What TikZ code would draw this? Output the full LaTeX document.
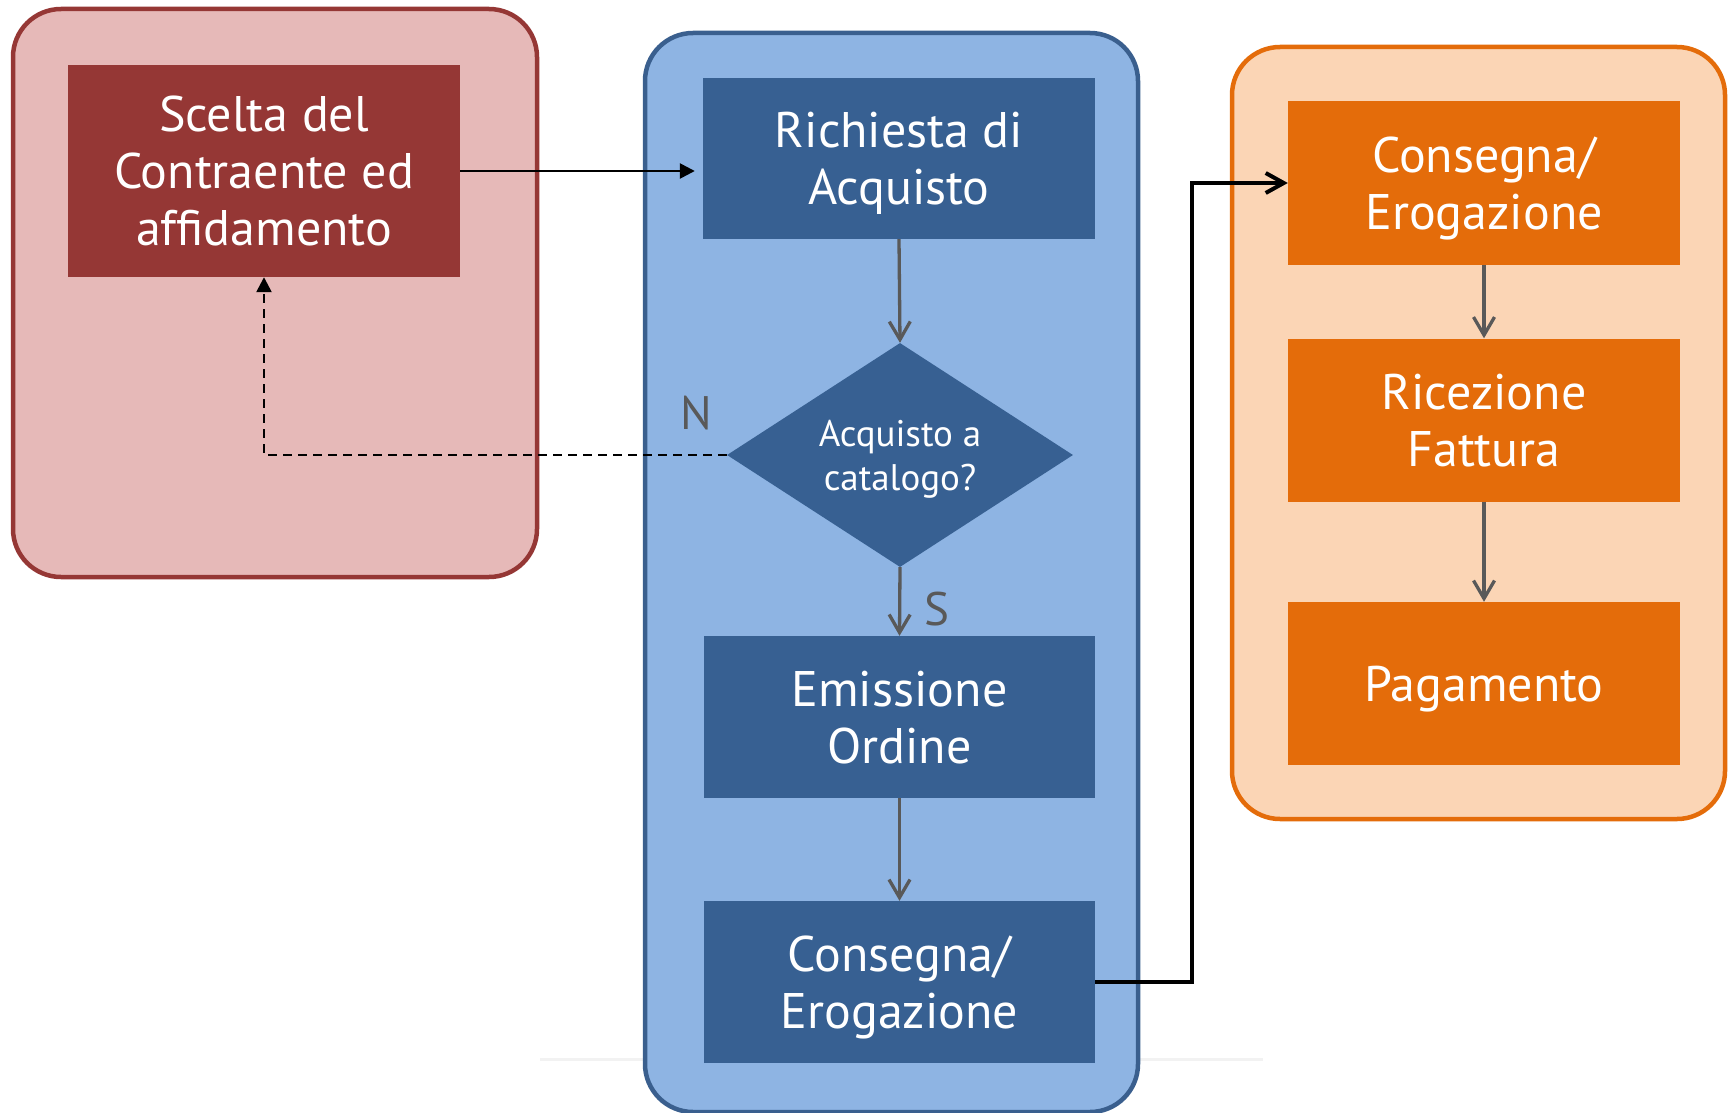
\documentclass[tikz,border=0pt]{standalone}
\usepackage{fontspec}
\setmainfont{PT Sans}
\usetikzlibrary{shapes.geometric,arrows.meta}
\definecolor{redborder}{HTML}{953735}
\definecolor{redfill}{HTML}{E6B9B8}
\definecolor{blueborder}{HTML}{3A5F8E}
\definecolor{bluefill}{HTML}{8EB4E3}
\definecolor{bluebox}{HTML}{376092}
\definecolor{orangeborder}{HTML}{E46C0A}
\definecolor{orangefill}{HTML}{FBD5B5}
\definecolor{orangebox}{HTML}{E46C0A}
\definecolor{arrowgray}{HTML}{595959}
\tikzset{
  container/.style={rectangle, rounded corners=48pt, line width=4.5pt, inner sep=0pt},
  stepbox/.style={rectangle, inner sep=0pt, text=white, align=center,
     text height=35.6pt, text depth=0pt,
     font=\fontsize{50}{57}\selectfont},
  twolines/.style={text height=92.6pt},
  threelines/.style={text height=149.6pt},
  decision/.style={diamond, inner sep=0pt, aspect=1.545, text=white, align=center,
     fill=bluebox, text height=70pt, text depth=0pt,
     font=\fontsize{37}{44}\selectfont},
  grayarrow/.style={draw=arrowgray, line width=3.3pt,
     -{Straight Barb[length=18pt,width=21pt]}},
  lbl/.style={text=arrowgray, font=\fontsize{47}{50}\selectfont, inner sep=0pt}
}
\begin{document}
\begin{tikzpicture}[x=1pt,y=-1pt]
\useasboundingbox (0,0) rectangle (1729,1113);
% faint reflection line
\draw[line width=3pt, black!5] (540,1059) -- (1263,1059);
% containers
\node[container, draw=redborder, fill=redfill, minimum width=524pt, minimum height=568pt] (redc) at (275,293) {};
\node[container, draw=blueborder, fill=bluefill, minimum width=493pt, minimum height=1079pt] (bluec) at (891.5,572.5) {};
\node[container, draw=orangeborder, fill=orangefill, minimum width=493pt, minimum height=772pt] (orangec) at (1478.5,433) {};
% boxes
\node[stepbox, threelines, fill=redborder, minimum width=392pt, minimum height=212pt] (sc) at (264,171) {Scelta del\\Contraente ed\\affidamento};
\node[stepbox, twolines, fill=bluebox, minimum width=392pt, minimum height=161pt] (ra) at (899,158.5) {Richiesta di\\Acquisto};
\node[decision, minimum width=346pt, minimum height=224pt] (dia) at (900,455) {Acquisto a\\catalogo?};
\node[stepbox, twolines, fill=bluebox, minimum width=391pt, minimum height=162pt] (eo) at (899.5,717) {Emissione\\Ordine};
\node[stepbox, twolines, fill=bluebox, minimum width=391pt, minimum height=162pt] (cb) at (899.5,982) {Consegna/\\Erogazione};
\node[stepbox, twolines, fill=orangebox, minimum width=392pt, minimum height=164pt] (co) at (1484,183) {Consegna/\\Erogazione};
\node[stepbox, twolines, fill=orangebox, minimum width=392pt, minimum height=163pt] (rf) at (1484,420) {Ricezione\\Fattura};
\node[stepbox, fill=orangebox, minimum width=392pt, minimum height=163pt] (pg) at (1484,683.5) {Pagamento};
% labels
\node[lbl] (nlab) at (696,413) {N};
\node[lbl] (slab) at (937,609) {S};
% connectors
\draw[line width=2.5pt, -{Triangle[length=15pt,width=15pt]}, shorten >=8pt] (sc.east) -- (sc.east -| ra.west);
\draw[grayarrow] (ra.south) -- (dia.north);
\draw[grayarrow] (dia.south) -- (eo.north);
\draw[grayarrow] (eo.south) -- (cb.north);
\draw[grayarrow] (co.south) -- (rf.north);
\draw[grayarrow] (rf.south) -- (pg.north);
\draw[line width=2.5pt, dash pattern=on 9pt off 6pt, -{Triangle[length=15pt,width=15pt]}] (dia.west) -| (sc.south);
\coordinate (bend) at (1192,982);
\draw[line width=4pt, -{Straight Barb[length=18pt,width=20pt]}] (cb.east) -- (bend) |- (co.west);
\end{tikzpicture}
\end{document}
